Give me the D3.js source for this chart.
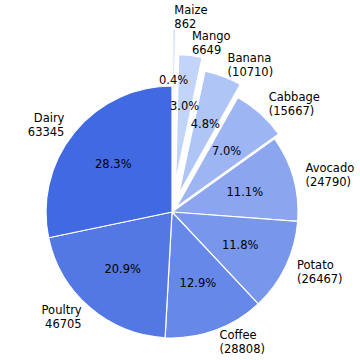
<!DOCTYPE html>
<meta charset="utf-8">
<script src="https://d3js.org/d3.v7.min.js"></script>
<style>
body { margin: 0; background: #fff; }
text {
  font-family: "DejaVu Sans", sans-serif;
  font-size: 11.5px;
  fill: #000;
}
</style>
<body>
<script>

var names = ["Maize", "Mango", "Banana", "Cabbage", "Avocado", "Potato", "Coffee", "Poultry", "Dairy"];
var values = [862, 6649, 10710, 15667, 24790, 26467, 28808, 46705, 63345];
var valueLabels = ["862", "6649", "(10710)", "(15667)", "(24790)", "(26467)", "(28808)", "46705", "63345"];
var explode = [0.45, 0.25, 0.15, 0.05, 0, 0, 0, 0, 0];

var width = 360,
    height = 360,
    cx = 172,
    cy = 212,
    r = 126;

var total = d3.sum(values);

var color = d3.scaleLinear()
    .domain([0, names.length - 1])
    .range(["#d4e3fc", "#4169e1"]);

var svg = d3.select("body").append("svg")
    .attr("width", width)
    .attr("height", height);

var pie = d3.pie().sort(null)(values);

var arc = d3.arc().innerRadius(0).outerRadius(r);

// offset of each wedge along its middle angle
function shift(d, i, dist) {
  var a = (d.startAngle + d.endAngle) / 2;
  return [cx + Math.sin(a) * dist, cy - Math.cos(a) * dist];
}

var g = svg.append("g");

g.selectAll("path")
    .data(pie)
    .enter()
    .append("path")
    .attr("d", arc)
    .attr("transform", function(d, i) {
      var p = shift(d, i, explode[i] * r);
      return "translate(" + p[0] + "," + p[1] + ")";
    })
    .style("fill", function(d, i) { return color(i); })
    .style("stroke", "#fff")
    .style("stroke-width", 1.2)
    .style("stroke-linejoin", "round");

// percentages
svg.append("g")
    .selectAll("text")
    .data(pie)
    .enter()
    .append("text")
    .attr("x", function(d, i) { return shift(d, i, (0.6 + explode[i]) * r)[0]; })
    .attr("y", function(d, i) { return shift(d, i, (0.6 + explode[i]) * r)[1]; })
    .attr("text-anchor", "middle")
    .attr("dy", "0.35em")
    .text(function(d) { return (d.value / total * 100).toFixed(1) + "%"; });

// outer labels, two lines
var labels = svg.append("g")
    .selectAll("text")
    .data(pie)
    .enter()
    .append("text")
    .attr("text-anchor", function(d) {
      return Math.sin((d.startAngle + d.endAngle) / 2) > 0 ? "start" : "end";
    })
    .attr("transform", function(d, i) {
      var p = shift(d, i, (1.1 + explode[i]) * r);
      return "translate(" + p[0] + "," + p[1] + ")";
    });

labels.append("tspan")
    .attr("x", 0)
    .attr("y", -7)
    .attr("dy", "0.35em")
    .text(function(d, i) { return names[i]; });

labels.append("tspan")
    .attr("x", 0)
    .attr("y", 7)
    .attr("dy", "0.35em")
    .text(function(d, i) { return valueLabels[i]; });

</script>
</body>
